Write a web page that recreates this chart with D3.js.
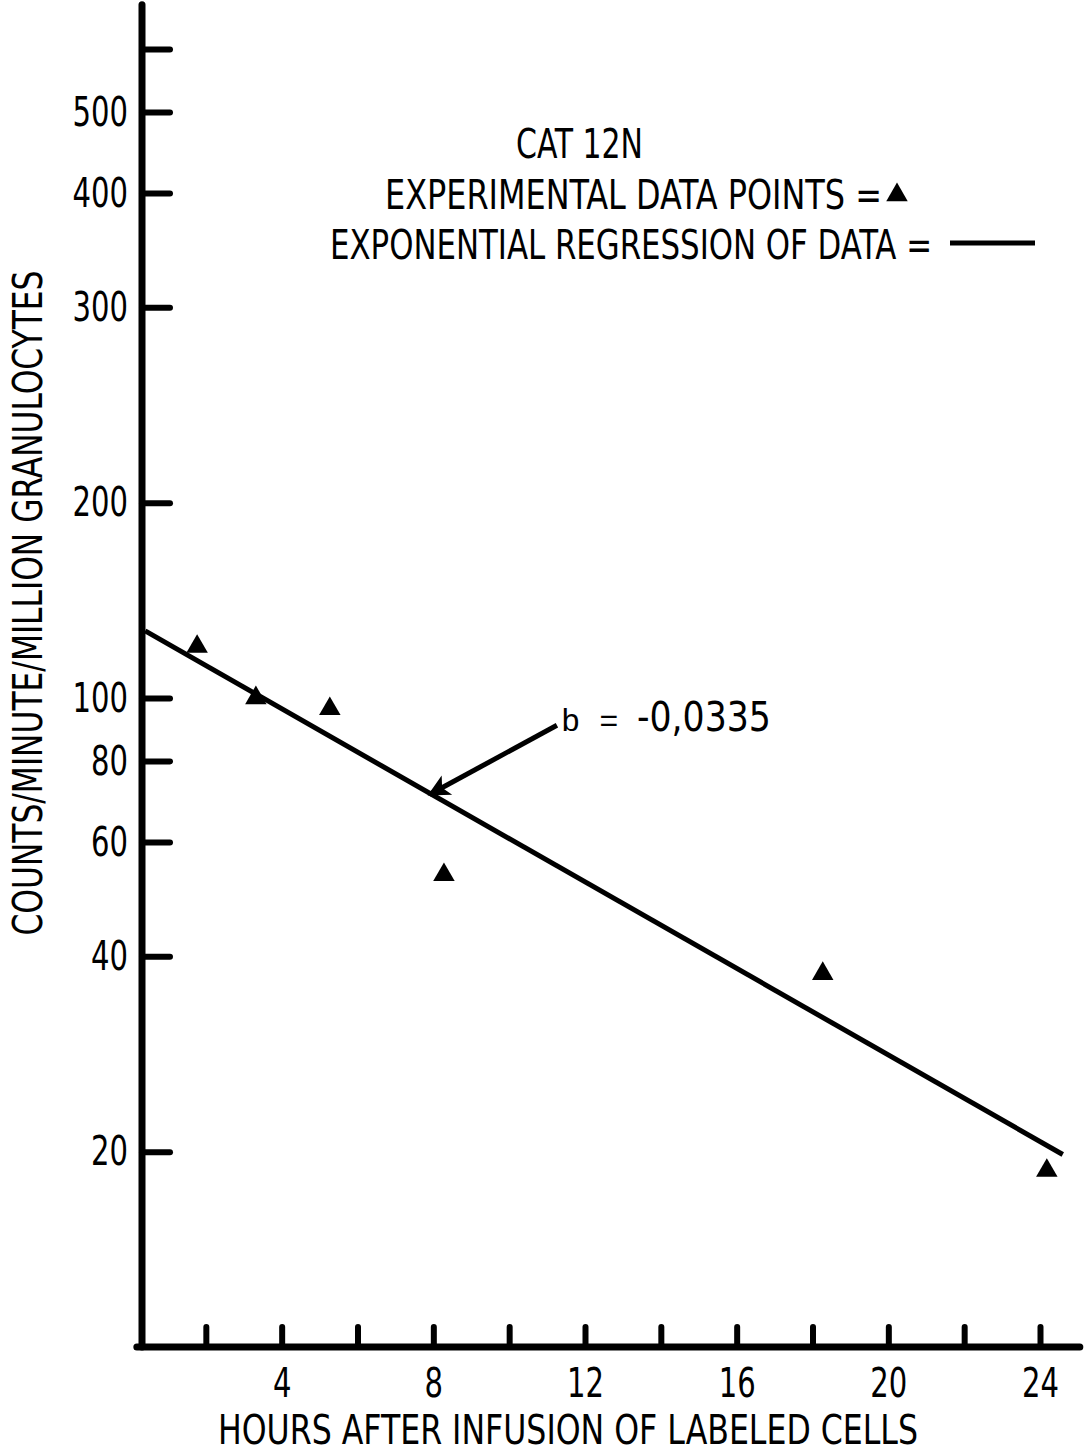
<!DOCTYPE html>
<html lang="en">
<head>
<meta charset="UTF-8"/>
<title>Cat 12N</title>
<script src="https://d3js.org/d3.v7.min.js"></script>
<style>
  body { margin: 0; background: #fff; }
  svg { display: block; }
  text {
    font-family: "Liberation Sans Narrow", "DejaVu Sans Condensed", "DejaVu Sans", sans-serif;
    font-stretch: condensed;
    font-size: 41px;
    fill: #000;
  }
  .mono { font-family: "Liberation Mono", "DejaVu Sans Mono", monospace; font-size: 32px; font-stretch: normal; }
  .axis line { stroke: #000; stroke-width: 6; stroke-linecap: round; }
  .axis path { display: none; }
  .axis-line { stroke: #000; stroke-width: 7; stroke-linecap: round; fill: none; }
</style>
</head>
<body>
<script>
// data (hours, counts/minute/million granulocytes)
const hours  = [1.77, 3.32, 5.27, 8.28, 18.27, 24.18]
const counts = [120, 100, 96.2, 53.4, 37.6, 18.7]

// end points of the exponential regression (straight on the log axis)
const regression = [[0.4, 126.9], [24.6, 19.8]]

const xTickValues = [2, 4, 6, 8, 10, 12, 14, 16, 18, 20, 22, 24]
const xTickLabels = ["", "4", "", "8", "", "12", "", "16", "", "20", "", "24"]
// tick labels are printed as on the original sheet
const yTickValues = [20, 40, 60, 80, 100, 200, 400, 600, 800, 1000]
const yTickLabels = ["20", "40", "60", "80", "100", "200", "300", "400", "500", ""]

const hourExtent  = [0.18, 25.05]
const countExtent = [10, 1170]

const slopeText = "-0,0335"
const arrowFrom = [11.26, 90.8]
const arrowTo   = [7.9, 71]

const width = 1087, height = 1455
const digitWidth = 18.5

const x = d3.scaleLinear().domain([0, 24]).range([130, 1040])
const y = d3.scaleLog().domain([10, 1000]).range([1347, 49])
const yAxisX = 142

const svg = d3.select("body").append("svg")
    .attr("width", width)
    .attr("height", height)

svg.append("defs").append("marker")
    .attr("id", "head")
    .attr("viewBox", "0 0 10 10")
    .attr("refX", 9)
    .attr("refY", 5)
    .attr("markerUnits", "userSpaceOnUse")
    .attr("markerWidth", 36)
    .attr("markerHeight", 22)
    .attr("orient", "auto")
  .append("path")
    .attr("d", "M0,0 L10,5 L0,10 L2.5,5 Z")
    .attr("fill", "#000")

// axis lines
svg.append("line")
    .attr("class", "axis-line")
    .attr("x1", yAxisX).attr("x2", yAxisX)
    .attr("y1", y(countExtent[0])).attr("y2", y(countExtent[1]))

svg.append("line")
    .attr("class", "axis-line")
    .attr("x1", x(hourExtent[0])).attr("x2", x(hourExtent[1]))
    .attr("y1", y(countExtent[0])).attr("y2", y(countExtent[0]))

// y axis: ticks inward, labels on the left
svg.append("g")
    .attr("class", "axis")
    .attr("transform", `translate(${yAxisX},0)`)
    .call(d3.axisLeft(y)
      .tickValues(yTickValues)
      .tickFormat((d, i) => yTickLabels[i])
      .tickSize(-28)
      .tickPadding(14))

// x axis: ticks upward
svg.append("g")
    .attr("class", "axis")
    .attr("transform", `translate(0,${y(countExtent[0])})`)
    .call(d3.axisBottom(x)
      .tickValues(xTickValues)
      .tickFormat((d, i) => xTickLabels[i])
      .tickSize(-20)
      .tickPadding(21))

// squeeze tick labels to the narrow lettering of the original
svg.selectAll(".axis text")
    .attr("lengthAdjust", "spacingAndGlyphs")
    .attr("textLength", function () {
      const n = this.textContent.length
      return n ? n * digitWidth : null
    })

// regression line
svg.append("path")
    .datum(regression)
    .attr("d", d3.line().x(d => x(d[0])).y(d => y(d[1])))
    .attr("stroke", "#000")
    .attr("stroke-width", 5)
    .attr("fill", "none")

// data points
const tri = d3.symbol().type(d3.symbolTriangle).size(200)
svg.selectAll(".pt")
    .data(hours)
    .join("path")
    .attr("class", "pt")
    .attr("d", tri)
    .attr("transform", (d, i) => `translate(${x(d)},${y(counts[i])})`)
    .attr("fill", "#000")

// slope annotation
svg.append("line")
    .attr("x1", x(arrowFrom[0])).attr("y1", y(arrowFrom[1]))
    .attr("x2", x(arrowTo[0])).attr("y2", y(arrowTo[1]))
    .attr("stroke", "#000")
    .attr("stroke-width", 5)
    .attr("marker-end", "url(#head)")

svg.append("text")
    .attr("class", "mono")
    .attr("x", x(arrowFrom[0]) + 4)
    .attr("y", y(arrowFrom[1]) + 6)
    .text("b =")

svg.append("text")
    .attr("x", x(arrowFrom[0]) + 80)
    .attr("y", y(arrowFrom[1]) + 6)
    .attr("textLength", 134)
    .attr("lengthAdjust", "spacingAndGlyphs")
    .text(slopeText)

// legend / title block
svg.append("text")
    .attr("x", 516).attr("y", 158)
    .attr("textLength", 127)
    .attr("lengthAdjust", "spacingAndGlyphs")
    .text("CAT 12N")

svg.append("text")
    .attr("x", 385).attr("y", 209)
    .attr("textLength", 497)
    .attr("lengthAdjust", "spacingAndGlyphs")
    .text("EXPERIMENTAL DATA POINTS =")

svg.append("path")
    .attr("d", tri)
    .attr("transform", "translate(897,195)")
    .attr("fill", "#000")

svg.append("text")
    .attr("x", 330).attr("y", 259)
    .attr("textLength", 602)
    .attr("lengthAdjust", "spacingAndGlyphs")
    .text("EXPONENTIAL REGRESSION OF DATA =")

svg.append("line")
    .attr("x1", 950).attr("x2", 1035)
    .attr("y1", 243).attr("y2", 243)
    .attr("stroke", "#000")
    .attr("stroke-width", 5)

// axis titles
svg.append("text")
    .attr("x", 568).attr("y", 1444)
    .attr("text-anchor", "middle")
    .attr("textLength", 700)
    .attr("lengthAdjust", "spacingAndGlyphs")
    .text("HOURS AFTER INFUSION OF LABELED CELLS")

svg.append("text")
    .attr("transform", "translate(42,603) rotate(-90)")
    .attr("text-anchor", "middle")
    .attr("textLength", 665)
    .attr("lengthAdjust", "spacingAndGlyphs")
    .text("COUNTS/MINUTE/MILLION GRANULOCYTES")
</script>
</body>
</html>
